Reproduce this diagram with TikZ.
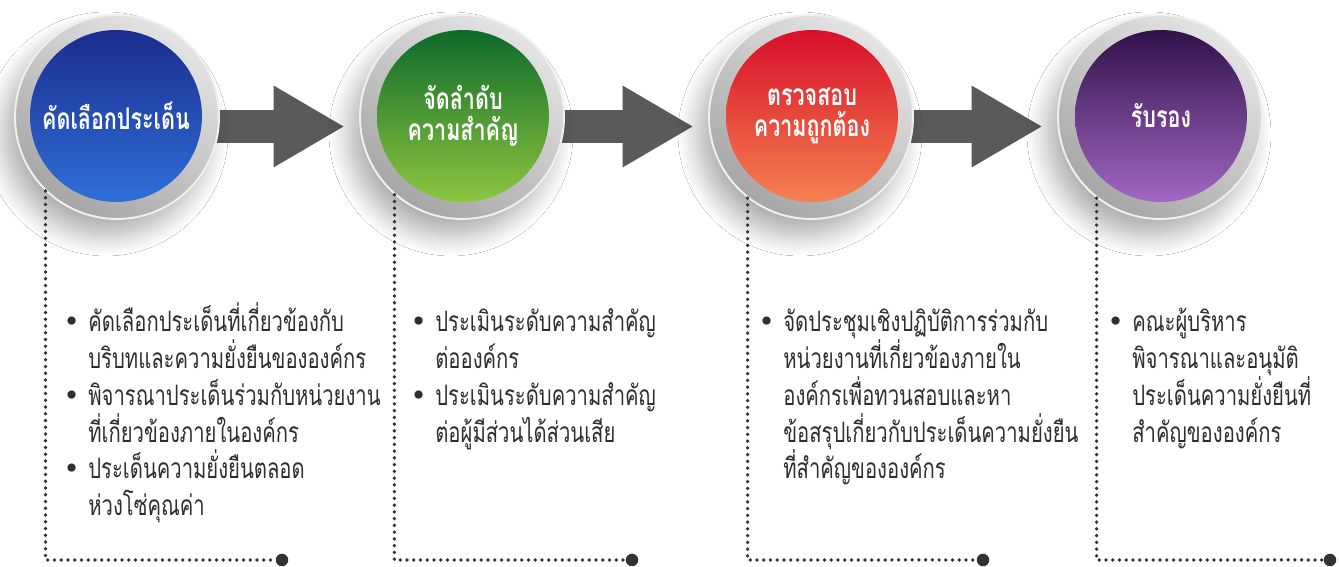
\documentclass[tikz,border=0pt]{standalone}
\usepackage{fontspec}
\newfontfamily\thaifont[Script=Thai,FakeStretch=0.72]{Loma}
\newfontfamily\symfont{DejaVu Sans}
\usetikzlibrary{arrows.meta,shadows.blur,backgrounds}
\definecolor{ringlight}{HTML}{E4E4E4}
\definecolor{ringdark}{HTML}{A6A6A6}
\definecolor{bluedark}{HTML}{1B2C8E}
\definecolor{bluelight}{HTML}{2F6FD8}
\definecolor{greendark}{HTML}{0E6A2A}
\definecolor{greenlight}{HTML}{8DC63F}
\definecolor{reddark}{HTML}{D80F2B}
\definecolor{redlight}{HTML}{F5814F}
\definecolor{purpledark}{HTML}{30124A}
\definecolor{purplelight}{HTML}{A267C2}
\definecolor{arrowgray}{HTML}{5A5A5A}
\definecolor{dotgray}{HTML}{333333}
\definecolor{txtgray}{HTML}{2E2E2E}
\newcommand\bul{\llap{{\symfont •}\hspace{0.17cm}}}
\newcommand\firstline{\rule{0pt}{0.7cm}}

\begin{document}
\begin{tikzpicture}[x=0.02cm,y=0.02cm,
  ring/.style={circle,minimum size=4.08cm,inner sep=0pt,
    draw=ringlight!60!white,line width=0.04cm,
    top color=ringlight,bottom color=ringdark,shading angle=-35,
    blur shadow={shadow xshift=-0.22cm,shadow yshift=-0.34cm,
      shadow blur radius=0.4cm,shadow blur steps=16,shadow opacity=32}},
  ball/.style={circle,minimum size=3.44cm,inner sep=0pt,align=center,
    text=white,shading angle=-45,
    font=\thaifont\bfseries\fontsize{17}{18}\selectfont},
  bullets/.style={anchor=north west,inner sep=0pt,align=left,text=txtgray,
    font=\thaifont\fontsize{16}{21}\selectfont},
  flow/.style={draw=arrowgray,line width=0.66cm,shorten >=0.31cm,
    -{Triangle[length=1.4cm,width=1.64cm,line width=0pt]}},
  dotline/.style={draw=dotgray,line width=0.075cm,line cap=round,
    dash pattern=on 0pt off 0.135cm},
  enddot/.style={circle,fill=dotgray,minimum size=0.25cm,inner sep=0pt}]
  \useasboundingbox (0,0) rectangle (1339,567);
  % rings and coloured balls
  \node[ring] (ring1) at (117,450) {};
  \node[ring] (ring2) at (462,450) {};
  \node[ring] (ring3) at (811,450) {};
  \node[ring] (ring4) at (1160,450) {};
  \node[ball,top color=bluedark,bottom color=bluelight] (ball1) at (116,451) {คัดเลือกประเด็น};
  \node[ball,top color=greendark,bottom color=greenlight] (ball2) at (463,451) {จัดลำดับ\\ความสำคัญ};
  \node[ball,top color=reddark,bottom color=redlight] (ball3) at (812,451) {ตรวจสอบ\\ความถูกต้อง};
  \node[ball,top color=purpledark,bottom color=purplelight] (ball4) at (1161,451) {รับรอง};
  \begin{scope}[on background layer]
    \fill[white] (0,0) rectangle (1339,567);
    \draw[flow] ([yshift=-0.19cm]ring1.center) -- ([yshift=-0.19cm]ring2.west);
    \draw[flow] ([yshift=-0.19cm]ring2.center) -- ([yshift=-0.19cm]ring3.west);
    \draw[flow] ([yshift=-0.19cm]ring3.center) -- ([yshift=-0.19cm]ring4.west);
  \end{scope}
  % brackets
  \node[enddot] (dot1) at (282,7) {};
  \node[enddot] (dot2) at (632,7) {};
  \node[enddot] (dot3) at (983,7) {};
  \node[enddot] (dot4) at (1330,7) {};
  \draw[dotline] (ring1.-134) |- (dot1);
  \draw[dotline] (ring2.-131) |- (dot2);
  \draw[dotline] (ring3.-128) |- (dot3);
  \draw[dotline] (ring4.-128) |- (dot4);
  % texts
  \node[bullets] (txt1) at (88,271) {\firstline\bul คัดเลือกประเด็นที่เกี่ยวข้องกับ\\
    บริบทและความยั่งยืนขององค์กร\\
    \bul พิจารณาประเด็นร่วมกับหน่วยงาน\\
    ที่เกี่ยวข้องภายในองค์กร\\
    \bul ประเด็นความยั่งยืนตลอด\\
    ห่วงโซ่คุณค่า};
  \node[bullets] (txt2) at (435,271) {\firstline\bul ประเมินระดับความสำคัญ\\
    ต่อองค์กร\\
    \bul ประเมินระดับความสำคัญ\\
    ต่อผู้มีส่วนได้ส่วนเสีย};
  \node[bullets] (txt3) at (783,271) {\firstline\bul จัดประชุมเชิงปฏิบัติการร่วมกับ\\
    หน่วยงานที่เกี่ยวข้องภายใน\\
    องค์กรเพื่อทวนสอบและหา\\
    ข้อสรุปเกี่ยวกับประเด็นความยั่งยืน\\
    ที่สำคัญขององค์กร};
  \node[bullets] (txt4) at (1132,271) {\firstline\bul คณะผู้บริหาร\\
    พิจารณาและอนุมัติ\\
    ประเด็นความยั่งยืนที่\\
    สำคัญขององค์กร};
\end{tikzpicture}
\end{document}
